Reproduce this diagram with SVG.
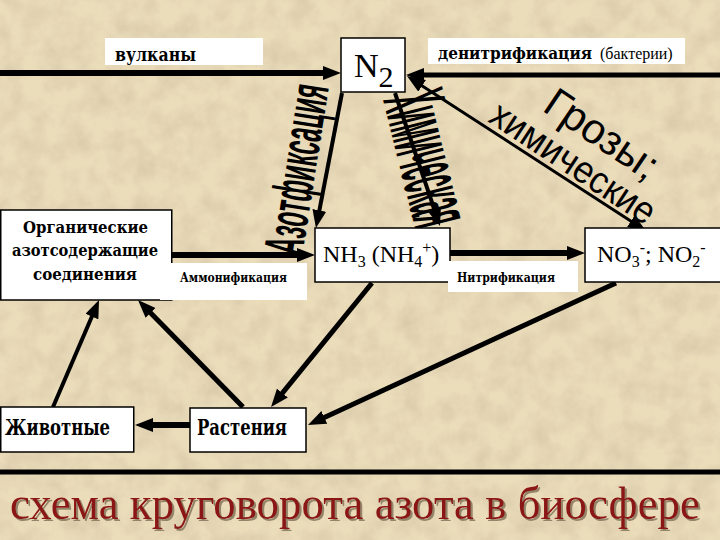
<svg xmlns="http://www.w3.org/2000/svg" width="720" height="540" viewBox="0 0 720 540">
<defs>
<style>
.box{fill:#fff;stroke:#000;stroke-width:1.5}
.wb{fill:#fff}
.bd{font-family:"DejaVu Serif Condensed","DejaVu Serif",serif;font-weight:bold}
#connectors line{stroke:#000;fill:none}
</style>
<filter id="paper" x="0" y="0" width="100%" height="100%">
<feTurbulence type="fractalNoise" baseFrequency="0.045" numOctaves="4" seed="7" result="n"/>
<feColorMatrix in="n" type="matrix" values="0 0 0 0 0.6  0 0 0 0 0.5  0 0 0 0 0.34  0 0 0 0.9 -0.3"/>
</filter>
<filter id="shadow" x="-5%" y="-20%" width="110%" height="140%">
<feDropShadow dx="2" dy="2" stdDeviation="0.6" flood-color="#8a7c62" flood-opacity="0.9"/>
</filter>
<marker id="ah" markerUnits="userSpaceOnUse" markerWidth="18" markerHeight="14" refX="3" refY="7" orient="auto-start-reverse" viewBox="0 0 18 14">
<path d="M0,0 L18,7 L0,14 z" fill="#000"/>
</marker>
</defs>

<rect width="720" height="540" fill="#EBDCBA"/>
<rect width="720" height="540" filter="url(#paper)"/>

<g id="labels-rotated" font-family="'Liberation Sans', Arial, sans-serif" fill="#000">
<text font-weight="bold" font-size="56" transform="translate(302,257) rotate(-81)" textLength="172" lengthAdjust="spacingAndGlyphs">Азотфиксация</text>
<text font-weight="bold" font-size="88" transform="translate(383,100) rotate(76)" textLength="135" lengthAdjust="spacingAndGlyphs">Химическая</text>
<text font-size="42" transform="translate(541,110) rotate(34)" textLength="128" lengthAdjust="spacingAndGlyphs">Грозы;</text>
<text font-size="38" transform="translate(487,121) rotate(33.5)" textLength="190" lengthAdjust="spacingAndGlyphs">химические</text>
</g>

<g id="connectors">
<line x1="0" y1="73" x2="326" y2="73" stroke-width="6" marker-end="url(#ah)"/>
<line x1="720" y1="75" x2="421" y2="75" stroke-width="5" marker-end="url(#ah)"/>
<line x1="419.6" y1="84.2" x2="633.4" y2="222.8" stroke-width="3" marker-start="url(#ah)" marker-end="url(#ah)"/>
<line x1="342" y1="93" x2="318.8" y2="213.3" stroke-width="4" marker-end="url(#ah)"/>
<line x1="395" y1="93" x2="435.2" y2="211.8" stroke-width="4" marker-end="url(#ah)"/>
<line x1="172" y1="255" x2="300" y2="255" stroke-width="6" marker-end="url(#ah)"/>
<line x1="450" y1="253" x2="570" y2="253" stroke-width="6" marker-end="url(#ah)"/>
<line x1="372" y1="283" x2="280.5" y2="395.4" stroke-width="5" marker-end="url(#ah)"/>
<line x1="616" y1="283" x2="321.6" y2="418.7" stroke-width="5" marker-end="url(#ah)"/>
<line x1="243" y1="407" x2="148.5" y2="310.7" stroke-width="5" marker-end="url(#ah)"/>
<line x1="53" y1="407" x2="93.1" y2="313.8" stroke-width="4" marker-end="url(#ah)"/>
<line x1="190" y1="425" x2="150" y2="425" stroke-width="6" marker-end="url(#ah)"/>
<line x1="0" y1="472" x2="720" y2="472" stroke-width="5"/>
</g>

<g font-family="'Liberation Serif', 'Times New Roman', serif" fill="#000">
<g id="volcanoes">
<rect class="wb" x="105" y="38" width="158" height="27"/>
<text class="bd" x="115" y="61" font-size="19" textLength="81" lengthAdjust="spacingAndGlyphs">вулканы</text>
</g>

<g id="n2">
<rect class="box" x="341" y="38" width="64" height="54"/>
<text x="354" y="77" font-size="34">N<tspan font-size="30" dy="10">2</tspan></text>
</g>

<g id="denitrification">
<rect class="wb" x="428" y="38" width="257" height="26"/>
<text x="438" y="59" font-size="17"><tspan class="bd">денитрификация</tspan><tspan x="600" font-size="16">(бактерии)</tspan></text>
</g>

<g id="organic">
<rect class="box" x="0.75" y="210" width="171" height="90"/>
<rect class="wb" x="160" y="263" width="147" height="37"/>
<text class="bd" x="23" y="233" font-size="17" textLength="125" lengthAdjust="spacingAndGlyphs">Органические</text>
<text class="bd" x="12" y="256" font-size="17" textLength="146" lengthAdjust="spacingAndGlyphs">азотсодержащие</text>
<text class="bd" x="33" y="280" font-size="17" textLength="104" lengthAdjust="spacingAndGlyphs">соединения</text>
<text class="bd" x="180" y="282" font-size="12" textLength="107" lengthAdjust="spacingAndGlyphs">Аммонификация</text>
</g>

<g id="nh3">
<rect class="box" x="315" y="228" width="135" height="54"/>
<text x="323" y="262" font-size="24">NH<tspan font-size="16" dy="5">3</tspan><tspan dy="-5"> (NH</tspan><tspan font-size="16" dy="5">4</tspan><tspan font-size="16" dy="-14">+</tspan><tspan dy="9">)</tspan></text>
</g>

<g id="no3">
<rect class="box" x="585" y="228" width="140" height="54"/>
<text x="597" y="262" font-size="24">NO<tspan font-size="16" dy="5">3</tspan><tspan font-size="16" dy="-14">-</tspan><tspan dy="9">; NO</tspan><tspan font-size="16" dy="5">2</tspan><tspan font-size="16" dy="-14">-</tspan></text>
</g>

<g id="nitrification">
<rect class="wb" x="448" y="261" width="130" height="31"/>
<text class="bd" x="457" y="282" font-size="12" textLength="98" lengthAdjust="spacingAndGlyphs">Нитрификация</text>
</g>

<g id="animals">
<rect class="box" x="0.75" y="407" width="133" height="45"/>
<text class="bd" x="5" y="435" font-size="22" textLength="105" lengthAdjust="spacingAndGlyphs">Животные</text>
</g>

<g id="plants">
<rect class="box" x="190" y="408" width="116" height="44"/>
<text class="bd" x="197" y="435" font-size="22" textLength="90" lengthAdjust="spacingAndGlyphs">Растения</text>
</g>

<g id="title">
<text x="10" y="519" font-size="47" textLength="690" lengthAdjust="spacingAndGlyphs" filter="url(#shadow)" fill="#8B1212">схема круговорота азота в биосфере</text>
</g>
</g>
</svg>
